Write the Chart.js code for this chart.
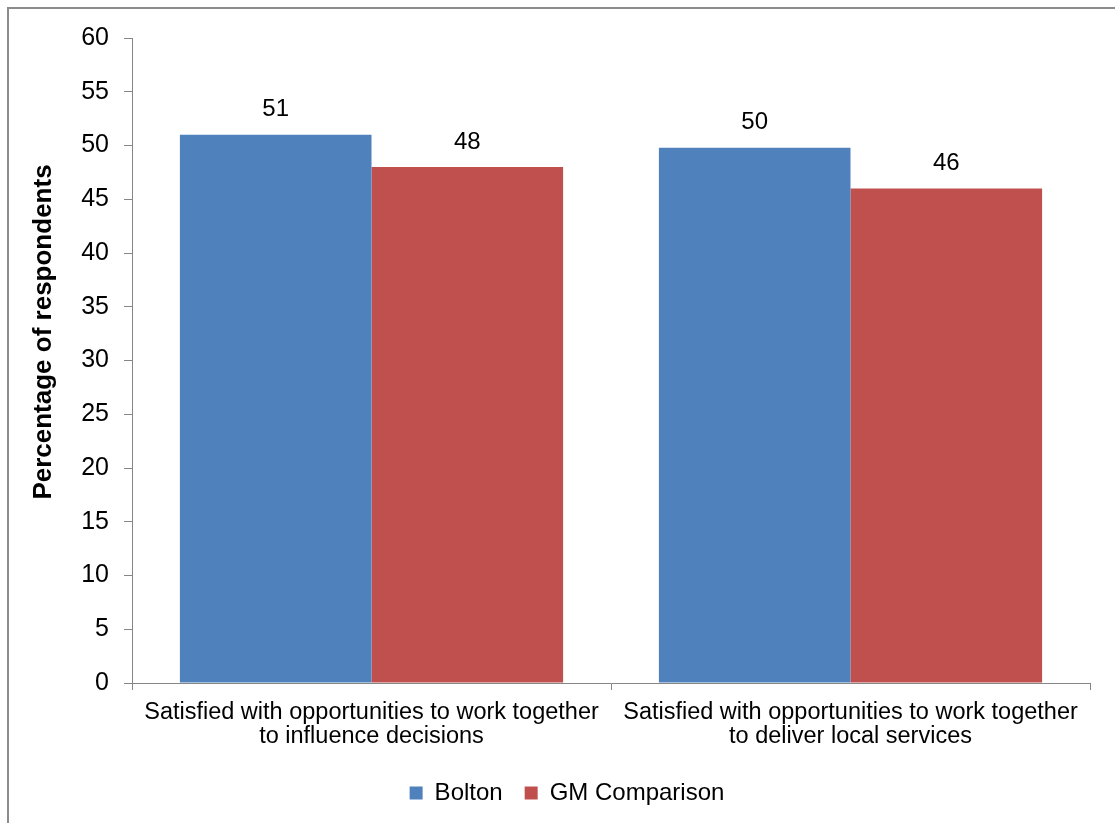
<!DOCTYPE html>
<html>
<head>
<meta charset="utf-8">
<script src="https://cdn.jsdelivr.net/npm/chart.js@4.4.0/dist/chart.umd.min.js"></script>
<style>
  html, body { margin: 0; padding: 0; background: #fff; }
  #wrap { width: 1115px; height: 823px; position: relative; }
</style>
</head>
<body>
<div id="wrap"><canvas id="surveyChart" width="1115" height="823"></canvas></div>
<script>
// Chart values
const categories = [
    ['Satisfied with opportunities to work together', 'to influence decisions'],
    ['Satisfied with opportunities to work together', 'to deliver local services']
];
const boltonValues = [51, 49.8];
const gmValues = [48, 46];
const seriesNames = ['Bolton', 'GM Comparison'];
const yAxisTitle = 'Percentage of respondents';

const FONT = 'Liberation Sans, Arial, sans-serif';
const axisGrey = '#868686';

// Outer frame (top and left edges visible in the picture)
const framePlugin = {
    id: 'frame',
    beforeDraw(chart) {
        const ctx = chart.ctx;
        ctx.save();
        ctx.strokeStyle = '#8c8c8c';
        ctx.lineWidth = 2;
        ctx.beginPath();
        ctx.moveTo(8, chart.height + 2);
        ctx.lineTo(8, 8);
        ctx.lineTo(chart.width + 2, 8);
        ctx.stroke();
        ctx.restore();
    }
};

// Rotated y axis title
const yTitlePlugin = {
    id: 'yTitle',
    afterDraw(chart) {
        const ctx = chart.ctx;
        ctx.save();
        ctx.translate(44, 332);
        ctx.rotate(-Math.PI / 2);
        ctx.font = 'bold 26px ' + FONT;
        ctx.fillStyle = '#000';
        ctx.textAlign = 'center';
        ctx.textBaseline = 'middle';
        ctx.fillText(yAxisTitle, 0, 0);
        ctx.restore();
    }
};

// Value labels above each bar
const valueLabels = {
    id: 'valueLabels',
    afterDatasetsDraw(chart) {
        const ctx = chart.ctx;
        ctx.save();
        ctx.font = '24px ' + FONT;
        ctx.fillStyle = '#000';
        ctx.textAlign = 'center';
        ctx.textBaseline = 'bottom';
        chart.data.datasets.forEach(function (ds, i) {
            chart.getDatasetMeta(i).data.forEach(function (bar, j) {
                ctx.fillText(String(Math.round(ds.data[j])), bar.x, bar.y - 13);
            });
        });
        ctx.restore();
    }
};

const ctx = document.getElementById('surveyChart').getContext('2d');

new Chart(ctx, {
    type: 'bar',
    data: {
        labels: categories,
        datasets: [
            {
                label: seriesNames[0],
                data: boltonValues,
                backgroundColor: '#4f81bd',
                categoryPercentage: 0.8,
                barPercentage: 1.0
            },
            {
                label: seriesNames[1],
                data: gmValues,
                backgroundColor: '#c0504d',
                categoryPercentage: 0.8,
                barPercentage: 1.0
            }
        ]
    },
    options: {
        responsive: false,
        animation: false,
        layout: {
            padding: { top: 38, right: 25, bottom: 8, left: 44 }
        },
        scales: {
            x: {
                offset: true,
                grid: {
                    offset: true,
                    drawOnChartArea: false,
                    drawTicks: true,
                    tickLength: 7,
                    color: axisGrey
                },
                border: { color: axisGrey, width: 1 },
                ticks: {
                    color: '#000',
                    font: { family: FONT, size: 23.5, lineHeight: 1.0 },
                    padding: 11,
                    maxRotation: 0,
                    autoSkip: false
                }
            },
            y: {
                min: 0,
                max: 60,
                afterFit: function (scale) { scale.width = 88; },
                grid: {
                    drawOnChartArea: false,
                    tickLength: 8,
                    color: axisGrey
                },
                border: { color: axisGrey, width: 1 },
                ticks: {
                    stepSize: 5,
                    color: '#000',
                    font: { family: FONT, size: 25 },
                    padding: 15
                }
            }
        },
        plugins: {
            legend: {
                display: true,
                position: 'bottom',
                labels: {
                    boxWidth: 13,
                    boxHeight: 13,
                    padding: 22,
                    color: '#000',
                    font: { family: FONT, size: 24 }
                }
            },
            tooltip: { enabled: false }
        }
    },
    plugins: [framePlugin, yTitlePlugin, valueLabels]
});
</script>
</body>
</html>
